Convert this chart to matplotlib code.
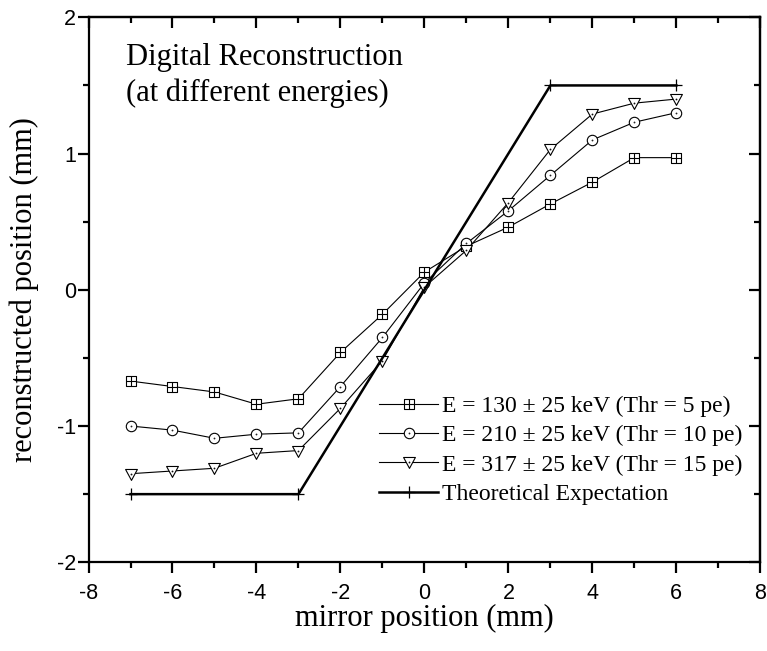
"""Digital reconstruction of mirror position at different energies."""

import matplotlib

matplotlib.use("Agg")
import matplotlib.pyplot as plt
import numpy as np
from matplotlib.path import Path
from matplotlib.ticker import MultipleLocator

# data
mirror_pos = [-7, -6, -5, -4, -3, -2, -1, 0, 1, 2, 3, 4, 5, 6]
reco_130 = [-0.67, -0.71, -0.75, -0.84, -0.80, -0.46, -0.18, 0.13, 0.32, 0.46, 0.63, 0.79, 0.97, 0.97]
reco_210 = [-1.00, -1.03, -1.09, -1.06, -1.05, -0.71, -0.35, 0.05, 0.34, 0.58, 0.84, 1.10, 1.23, 1.30]
reco_317 = [-1.35, -1.33, -1.31, -1.20, -1.18, -0.87, -0.52, 0.02, 0.29, 0.64, 1.03, 1.29, 1.37, 1.40]
theory_x = [-7, -3, 3, 6]
theory_y = [-1.5, -1.5, 1.5, 1.5]

labels = [
    "E = 130 \u00b1 25 keV (Thr = 5 pe)",
    "E = 210 \u00b1 25 keV (Thr = 10 pe)",
    "E = 317 \u00b1 25 keV (Thr = 15 pe)",
    "Theoretical Expectation",
]

plt.rcParams["font.family"] = ["Liberation Serif", "DejaVu Serif"]
plt.rcParams["axes.unicode_minus"] = False


def _square_plus():
    verts = [(-1, -1), (1, -1), (1, 1), (-1, 1), (-1, -1),
             (0, -1), (0, 1), (-1, 0), (1, 0)]
    codes = [Path.MOVETO, Path.LINETO, Path.LINETO, Path.LINETO, Path.CLOSEPOLY,
             Path.MOVETO, Path.LINETO, Path.MOVETO, Path.LINETO]
    return Path(verts, codes)


def _with_dot(outline):
    dot = Path.circle((0, 0), radius=0.06)
    return Path.make_compound_path(outline, dot)


circle_dot = _with_dot(Path.unit_circle())
tri = Path([(0, -1), (-1, 0.85), (1, 0.85), (0, -1)],
           [Path.MOVETO, Path.LINETO, Path.LINETO, Path.CLOSEPOLY])
tri_dot = _with_dot(tri)

fig = plt.figure(figsize=(7.67, 6.51), dpi=100)
ax = fig.add_axes([0.1154, 0.1363, 0.9913 - 0.1154, 0.9734 - 0.1363])

common = dict(color="black", lw=0.8, mfc="white", mec="black", mew=0.8)
ax.plot(mirror_pos, reco_130, marker=_square_plus(), ms=6.5, label=labels[0], **common)
ax.plot(mirror_pos, reco_210, marker=circle_dot, ms=7.5, label=labels[1], **common)
ax.plot(mirror_pos, reco_317, marker=tri_dot, ms=8.5, label=labels[2], **common)
ax.plot(theory_x, theory_y, color="black", lw=1.8, marker="+", ms=9, mew=0.9,
        label=labels[3])

ax.set_xlim(-8, 8)
ax.set_ylim(-2, 2)
ax.xaxis.set_major_locator(MultipleLocator(2))
ax.xaxis.set_minor_locator(MultipleLocator(1))
ax.yaxis.set_major_locator(MultipleLocator(1))
ax.yaxis.set_minor_locator(MultipleLocator(0.5))

for side in ax.spines.values():
    side.set_linewidth(1.6)

ax.tick_params(axis="both", which="both", direction="out", width=1.6,
               top=False, right=False)
ax.tick_params(axis="both", which="major", length=8, labelsize=15.5)
ax.tick_params(axis="both", which="minor", length=4)
ax.tick_params(axis="x", which="major", pad=7)
ax.tick_params(axis="y", which="major", pad=1)
for lab in ax.get_xticklabels() + ax.get_yticklabels():
    lab.set_fontfamily("Liberation Sans")

# mirrored ticks pointing inward on top and right
top = ax.secondary_xaxis("top")
top.xaxis.set_major_locator(MultipleLocator(2))
top.xaxis.set_minor_locator(MultipleLocator(1))
top.tick_params(which="both", direction="in", width=1.6, labeltop=False)
top.tick_params(which="major", length=8)
top.tick_params(which="minor", length=4)
right = ax.secondary_yaxis("right")
right.yaxis.set_major_locator(MultipleLocator(1))
right.yaxis.set_minor_locator(MultipleLocator(0.5))
right.tick_params(which="both", direction="in", width=1.6, labelright=False)
right.tick_params(which="major", length=8)
right.tick_params(which="minor", length=4)
for sec in (top, right):
    for side in sec.spines.values():
        side.set_linewidth(1.6)

ax.set_xlabel("mirror position (mm)", fontsize=22, labelpad=0)
ax.set_ylabel("reconstructed position (mm)", fontsize=22, labelpad=13)

ax.text(0.0565, 0.9125, "Digital Reconstruction", transform=ax.transAxes,
        fontsize=22, va="baseline", ha="left")
ax.text(0.0565, 0.846, "(at different energies)", transform=ax.transAxes,
        fontsize=22, va="baseline", ha="left")

ax.legend(loc="upper left", bbox_to_anchor=(0.4324, 0.306), frameon=False,
          fontsize=17, handlelength=2.5, handletextpad=0.15, labelspacing=0.33,
          borderpad=0, borderaxespad=0, numpoints=1)

fig.savefig("out.png", dpi=100)
